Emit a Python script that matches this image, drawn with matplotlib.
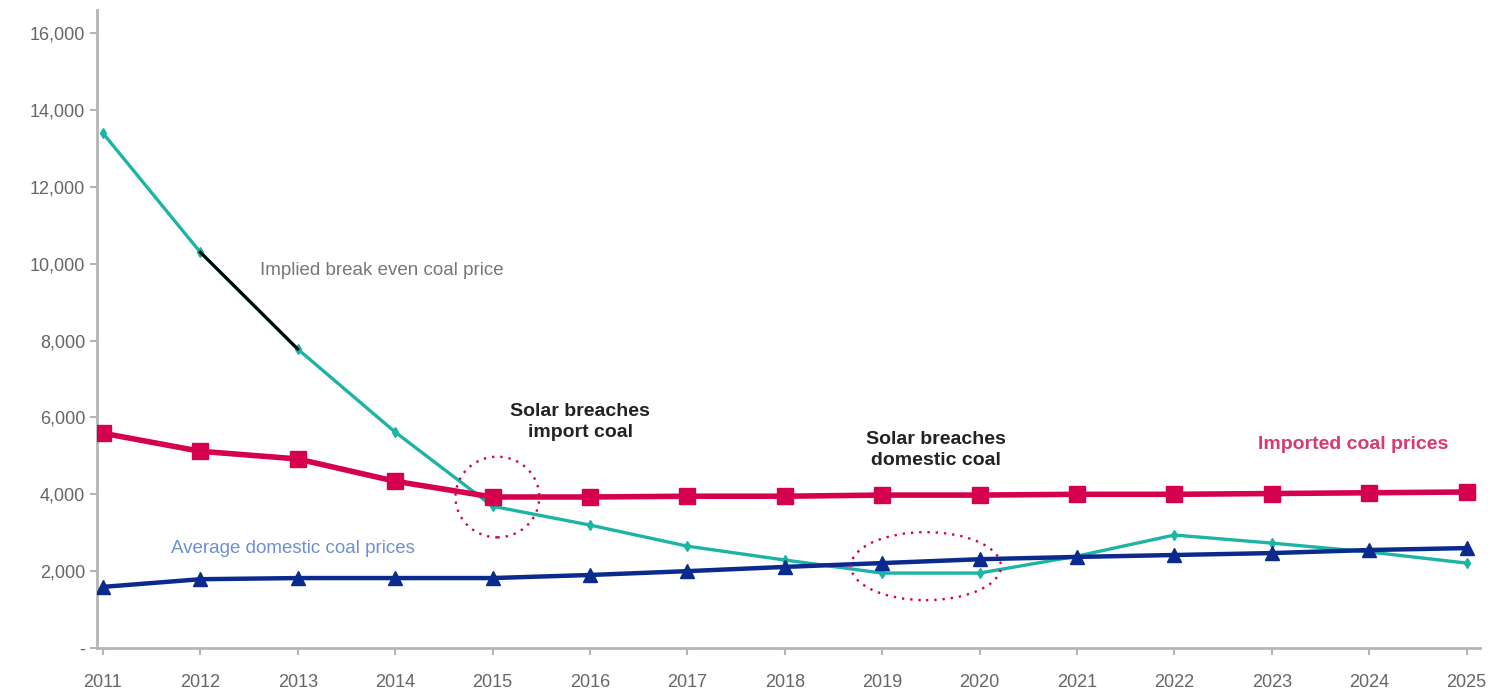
import matplotlib.pyplot as plt
from matplotlib.patches import Ellipse

years = list(range(2011, 2026))
breakeven = [13400, 10300, 7780, 5620, 3690, 3200, 2650, 2290, 1950, 1950,
             2390, 2940, 2730, 2500, 2210]
imported = [5590, 5120, 4920, 4340, 3930, 3930, 3950, 3950, 3980, 3980,
            4000, 4000, 4020, 4040, 4060]
domestic = [1590, 1790, 1820, 1820, 1820, 1900, 2000, 2110, 2210, 2310,
            2370, 2420, 2470, 2550, 2600]
ytick_vals = [0, 2000, 4000, 6000, 8000, 10000, 12000, 14000, 16000]
ytick_labels = ['-', '2,000', '4,000', '6,000', '8,000', '10,000', '12,000', '14,000', '16,000']

plt.rcParams['font.family'] = ['Liberation Sans', 'DejaVu Sans']

fig = plt.figure(figsize=(15.05, 6.94), dpi=100)
ax = fig.add_axes([0.0645, 0.0663, 0.919, 0.919])

teal = '#1db3a5'
red = '#d5004e'
navy = '#0a2a8e'

ax.plot(years, breakeven, color=teal, lw=2.4, marker='d', ms=5, zorder=2)
# the 2012-2013 stretch shows up black in the original
ax.plot(years[1:3], breakeven[1:3], color='black', lw=2.2, zorder=2.5)
ax.plot(years, imported, color=red, lw=4.0, marker='s', ms=12, zorder=3)
ax.plot(years, domestic, color=navy, lw=3.2, marker='^', ms=10, zorder=4)

ax.add_patch(Ellipse((2015.05, 3930), 0.86, 2100, fill=False, ec=red,
                     ls=(0, (1, 2.5)), lw=1.7, zorder=5))
ax.add_patch(Ellipse((2019.45, 2130), 1.54, 1770, fill=False, ec=red,
                     ls=(0, (1, 2.5)), lw=1.7, zorder=5))

ax.text(2012.61, 9830, 'Implied break even coal price', color='#777777', fontsize=13.5,
        va='center')
ax.text(2015.9, 5880, 'Solar breaches\nimport coal', color='#222222', fontsize=14,
        fontweight='bold', ha='center', va='center', linespacing=1.35)
ax.text(2019.55, 5150, 'Solar breaches\ndomestic coal', color='#222222', fontsize=14,
        fontweight='bold', ha='center', va='center', linespacing=1.35)
ax.text(2022.86, 5300, 'Imported coal prices', color='#d83a6e', fontsize=14,
        fontweight='bold', va='center')
ax.text(2011.7, 2600, 'Average domestic coal prices', color='#6f8fd3', fontsize=13.5,
        va='center')

ax.set_xlim(2010.94, 2025.14)
ax.set_ylim(0, 16600)
ax.set_xticks(years)
ax.set_xticklabels([str(y) for y in years])
ax.set_yticks(ytick_vals)
ax.set_yticklabels(ytick_labels)

for s in ['top', 'right']:
    ax.spines[s].set_visible(False)
for s in ['left', 'bottom']:
    ax.spines[s].set_color('#b5b5b5')
    ax.spines[s].set_linewidth(2)
ax.tick_params(colors='#b5b5b5', labelcolor='#666666', labelsize=13, length=5, width=1.5)
ax.tick_params(axis='x', pad=14)

fig.savefig('out.png', dpi=100)
